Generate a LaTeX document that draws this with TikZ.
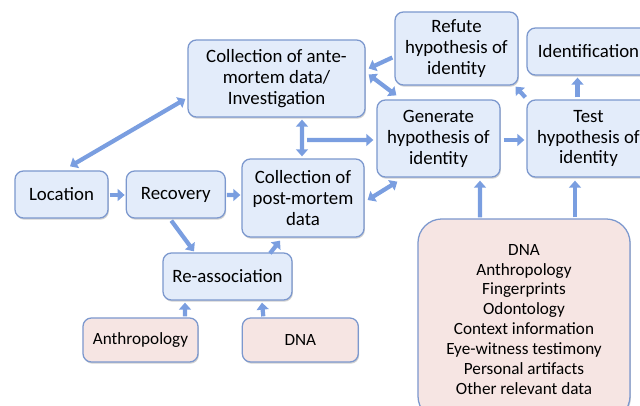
\documentclass[tikz,border=0pt]{standalone}
\usepackage{fontspec}
\setmainfont{Carlito}
\usepackage{xcolor}
\usetikzlibrary{positioning,arrows.meta,shadows}

\definecolor{boxblue}{RGB}{227,236,250}
\definecolor{lineblue}{RGB}{124,152,206}
\definecolor{arrowblue}{RGB}{122,158,224}
\definecolor{boxpink}{RGB}{246,229,227}

\begin{document}
\begin{tikzpicture}[x=0.025cm, y=-0.025cm,
    stage/.style={
        draw=lineblue,
        fill=boxblue,
        rectangle,
        rounded corners=6pt,
        line width=0.9pt,
        align=center,
        inner sep=2pt,
        font=\fontsize{13.4}{14.9}\selectfont,
        drop shadow={shadow xshift=0.6pt, shadow yshift=-1.2pt, opacity=0.3, fill=black!60}
    },
    source/.style={
        stage,
        fill=boxpink,
        font=\fontsize{12.2}{14.2}\selectfont
    },
    link/.style={
        draw=arrowblue,
        line width=3pt,
        -{Triangle[length=5pt,width=8.5pt]}
    },
    twoway/.style={
        link,
        {Triangle[length=5pt,width=8.5pt]}-{Triangle[length=5pt,width=8.5pt]}
    }
]
    \clip (0,0) rectangle (640,406);

    % Hypothesis loop at the top
    \node[stage, minimum width=4.425cm, minimum height=1.925cm] (ante) at (276.5,78.5)
        {Collection of ante-\\mortem data/\\Investigation};
    \node[stage, minimum width=3.075cm, minimum height=1.825cm] (refute) at (456.5,48.5)
        {Refute\\hypothesis of\\identity};
    \node[stage, minimum width=3.075cm, minimum height=1.175cm] (ident) at (588.5,51.5)
        {Identification};
    \node[stage, minimum width=3.075cm, minimum height=1.925cm] (generate) at (438.5,138.5)
        {Generate\\hypothesis of\\identity};
    \node[stage, minimum width=3.075cm, minimum height=1.925cm] (test) at (588.5,138.5)
        {Test\\hypothesis of\\identity};

    % Recovery chain
    \node[stage, minimum width=2.325cm, minimum height=1.175cm] (location) at (61.5,194.5)
        {Location};
    \node[stage, minimum width=2.475cm, minimum height=1.175cm] (recovery) [right=0.425cm of location]
        {Recovery};
    \node[stage, minimum width=3.05cm, minimum height=1.95cm] (post) at (303,198)
        {Collection of\\post-mortem\\data};
    \node[stage, minimum width=3.225cm, minimum height=1.175cm] (reassoc) at (227.5,276.5)
        {Re-association};

    % Sources of data
    \node[source, minimum width=2.875cm, minimum height=1.1cm] (anthro) at (140.5,340)
        {Anthropology};
    \node[source, minimum width=2.9cm, minimum height=1.1cm] (dna) [right=1.075cm of anthro]
        {DNA};
    \node[source, rounded corners=17pt, minimum width=5.3cm, minimum height=5.025cm] (evidence) at (524,319.5)
        {DNA\\Anthropology\\Fingerprints\\Odontology\\Context information\\Eye-witness testimony\\Personal artifacts\\Other relevant data};

    \coordinate (junc) at (307,140);

    % Arrows between stages
    \draw[link] ([shift={(-2,9)}]refute.west) -- ([shift={(3,-10)}]ante.east);
    \draw[twoway] ([shift={(3,-4)}]ante.east) -- ([shift={(20,-4)}]generate.north west);
    \draw[link] ([shift={(-1,-2)}]test.north west) -- ([shift={(-3,1)}]refute.south east);
    \draw[link] ([shift={(-11,-2)}]test.north) -- ([shift={(-11,2)}]ident.south);
    \draw[twoway] ([shift={(25.5,2)}]ante.south) -- ([shift={(-1,-2)}]post.north);
    \draw[link] (junc) -- ([shift={(-3,1.5)}]generate.west);
    \draw[link] ([shift={(3,1.5)}]generate.east) -- ([shift={(-2,1.5)}]test.west);
    \draw[twoway] ([shift={(3,2)}]post.east) -- ([shift={(21,4)}]generate.south west);
    \draw[link] ([shift={(-44,-1)}]evidence.north) -- ([shift={(41.5,3)}]generate.south);
    \draw[link] ([shift={(51,-1)}]evidence.north) -- ([shift={(-13.5,3)}]test.south);

    % Arrows of the recovery chain
    \draw[twoway] ([shift={(-2,20.5)}]ante.west) -- ([shift={(8.5,-4)}]location.north);
    \draw[link] ([shift={(1,0.5)}]location.east) -- ([shift={(-1,0.5)}]recovery.west);
    \draw[link] ([shift={(1,0.5)}]recovery.east) -- ([shift={(-1,-3)}]post.west);
    \draw[link] ([shift={(-4.5,2)}]recovery.south) -- ([shift={(-33.5,-1)}]reassoc.north);
    \draw[link] ([shift={(42.5,1)}]reassoc.north) -- ([shift={(-23,3)}]post.south);
    \draw[link] ([shift={(44.5,-1)}]anthro.north) -- ([shift={(-42.5,2)}]reassoc.south);
    \draw[link] ([shift={(-37,-1)}]dna.north) -- ([shift={(34.5,2)}]reassoc.south);
\end{tikzpicture}
\end{document}
